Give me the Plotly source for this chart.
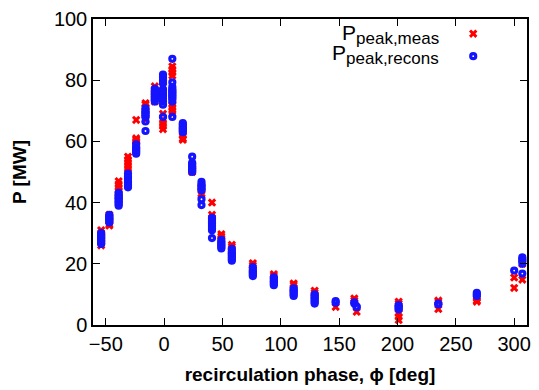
import plotly.graph_objects as go

# phase positions (deg) of the measurement clusters
phases = [-54, -47, -39, -31, -24, -16, -8, -1, 7, 16, 24, 32, 41, 49, 58,
          76, 94, 111, 129, 147, 163, 165, 201, 235, 268, 300, 307]

# measured peak power (MW) per phase cluster
p_meas = [
    [31, 30, 29, 28, 27, 26],
    [36, 35.5, 35, 34, 33, 32.5],
    [47, 46, 45, 44, 43, 42, 41],
    [55, 54, 53, 52, 51, 50],
    [67, 61, 60.5, 60, 59, 58.5],
    [72.5, 72, 71, 70, 69, 67],
    [78, 77, 76, 75, 74, 73],
    [78, 76, 74, 69, 67, 66, 65, 64],
    [84.5, 83.5, 82.5, 81.5, 73, 72, 71, 70, 69],
    [65, 64, 63, 62, 61, 60.5],
    [52, 51, 50.5, 50],
    [45, 43, 42.5],
    [40, 36, 35, 34],
    [29.7, 29, 28],
    [26.2, 25.5, 24],
    [20.2, 19.5, 18],
    [16.6, 16, 15],
    [13.6, 13, 12],
    [11.2, 10.5, 9.5],
    [5.9],
    [8.7, 8],
    [4.3],
    [7.6, 7, 5.5, 3.8, 2.7, 1.6],
    [8, 7.5, 5.2],
    [8.7, 8, 7.6],
    [15.5, 12.1],
    [20, 14.8],
]

# reconstructed peak power (MW) per phase cluster
p_recons = [
    [30, 29.5, 29, 28.5, 28, 27.5, 27, 26.5],
    [36, 35.5, 35, 34.5, 34, 33.5],
    [43.2, 42.5, 42, 41.5, 41, 40.5, 40, 39.5, 39],
    [49.5, 48.5, 48, 47, 46.5, 46, 45.5, 45],
    [59, 58, 57.5, 57, 56.5, 56],
    [70.8, 70, 69.5, 69, 68.5, 68, 66.5, 63.4],
    [77.2, 76.5, 76, 75.5, 75, 74.5, 74, 73.5, 73],
    [81.8, 81, 80, 79, 77, 76.5, 76, 75.5, 75, 74, 73, 72, 68],
    [87, 79.3, 77.8, 77, 76.5, 76, 75.5, 75, 74.5, 74, 73, 68],
    [66, 65.5, 65, 64.5, 64, 63.5, 63],
    [55, 53, 52.5, 52, 51.5, 51, 50.5, 50],
    [46.8, 46, 45.5, 45, 44.5, 44, 41.1, 39.2],
    [35, 34, 33.5, 33, 32.5, 32, 31.5, 31, 28.4],
    [27.8, 27, 26.5, 26, 25.5, 25],
    [24.9, 24, 23.5, 23, 22.5, 22, 21.5, 21],
    [18.9, 18, 17.5, 17, 16.5, 16],
    [15.6, 15, 14.5, 14, 13.5, 13],
    [12, 11.5, 11, 10.5, 10, 9.5],
    [10, 9.5, 9, 8.5, 8, 7.5, 7],
    [7.8, 7.3],
    [7.4, 7],
    [6, 5.8],
    [6.5, 6, 5.5, 5.1],
    [7, 6.7],
    [10.5, 10, 9.5],
    [17.8],
    [22.1, 21.5, 21, 20, 16.8],
]

x_ticks = [-50, 0, 50, 100, 150, 200, 250, 300]
y_ticks = [0, 20, 40, 60, 80, 100]


def flatten(groups):
    xs, ys = [], []
    for ph, vals in zip(phases, groups):
        for v in vals:
            xs.append(ph)
            ys.append(v)
    return xs, ys


xm, ym = flatten(p_meas)
xr, yr = flatten(p_recons)

FONT = "Liberation Sans, Arial, Helvetica, sans-serif"

fig = go.Figure()
fig.add_trace(go.Scatter(
    x=xm, y=ym, mode="markers", name="\u2009",
    marker=dict(symbol="x", size=7.5, color="rgb(255,0,0)", line=dict(width=0)),
))
fig.add_trace(go.Scatter(
    x=xr, y=yr, mode="markers", name="\u2009",
    marker=dict(symbol="circle-open", size=5, color="rgb(20,20,255)",
                line=dict(width=3.2, color="rgb(20,20,255)")),
))

axis_common = dict(
    showline=True, linecolor="black", linewidth=1.5, mirror="ticks",
    ticks="inside", ticklen=7, tickwidth=1.3, tickcolor="black",
    showgrid=False, zeroline=False,
    tickfont=dict(family=FONT, size=20, color="black"),
)

fig.update_xaxes(
    range=[-61, 311], tickvals=x_ticks,
    title=dict(text="<b>recirculation phase, \u03d5 [deg]</b>",
               font=dict(family=FONT, size=19, color="black"), standoff=14),
    **axis_common,
)
fig.update_yaxes(
    range=[0, 100], tickvals=y_ticks,
    title=dict(text="<b>P [MW]</b>",
               font=dict(family=FONT, size=19, color="black"), standoff=22),
    **axis_common,
)

fig.update_layout(
    width=539, height=390,
    margin=dict(l=93, r=8, t=16, b=65),
    plot_bgcolor="white", paper_bgcolor="white",
    showlegend=True,
    legend=dict(x=0.83, y=1.005, xanchor="left", yanchor="top",
                bgcolor="rgba(0,0,0,0)", font=dict(family=FONT, size=15),
                itemwidth=30, tracegroupgap=0),
    annotations=[
        dict(xref="paper", yref="paper", x=0.802, y=0.948, xanchor="right",
             yanchor="middle", showarrow=False,
             text="P<sub><span style='font-size:17px'>peak,meas</span></sub>",
             font=dict(family=FONT, size=21, color="black")),
        dict(xref="paper", yref="paper", x=0.802, y=0.883, xanchor="right",
             yanchor="middle", showarrow=False,
             text="P<sub><span style='font-size:17px'>peak,recons</span></sub>",
             font=dict(family=FONT, size=21, color="black")),
    ],
)

fig.write_html("out.html")
